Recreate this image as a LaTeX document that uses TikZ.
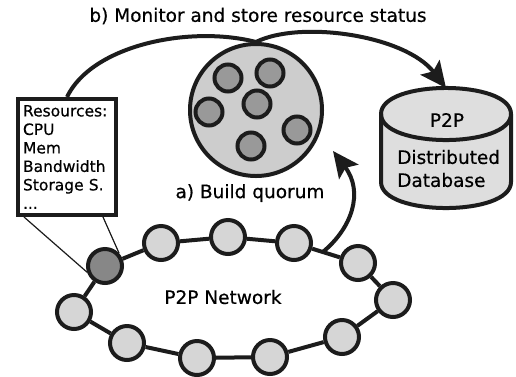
\documentclass[tikz,border=0pt]{standalone}
\usepackage{fontspec}
\setmainfont[FakeBold=0.5]{DejaVu Sans}
\usetikzlibrary{arrows.meta,calc}

\definecolor{ink}{HTML}{1C1C1C}
\definecolor{peerfill}{HTML}{D6D6D6}
\definecolor{peerdark}{HTML}{878787}
\definecolor{quorumfill}{HTML}{CDCDCD}
\definecolor{memberfill}{HTML}{999999}
\definecolor{dbfill}{HTML}{DEDEDE}

\tikzset{
  peer/.style={circle, draw=ink, line width=4pt, fill=peerfill, minimum size=34pt, inner sep=0pt},
  peerhot/.style={peer, fill=peerdark},
  quorum/.style={circle, draw=ink, line width=4pt, fill=quorumfill, minimum size=132pt, inner sep=0pt},
  member/.style={circle, draw=ink, line width=4pt, fill=memberfill, minimum size=27pt, inner sep=0pt},
  link/.style={draw=ink, line width=4pt},
  flow/.style={draw=ink, line width=4pt, -{Stealth[length=26pt, width=24pt, inset=5pt]}},
  callout/.style={draw=ink, line width=1.2pt},
  label/.style={font=\fontsize{18.5}{22}\selectfont, text=black, inner sep=0pt},
  resbox/.style={draw=ink, line width=4pt, fill=white, minimum width=98pt, minimum height=116pt,
    text width=88pt, inner xsep=5pt, inner ysep=0pt, align=left,
    font=\fontsize{15.5}{18.5}\selectfont}
}

\begin{document}
\begin{tikzpicture}[x=1pt, y=-1pt]
\useasboundingbox[fill=white] (0,0) rectangle (516,376);

% title
\node[label] (title) at (258,16) {b) Monitor and store resource status};

% distributed database (cylinder)
\coordinate (dbtop) at (446,88);
\filldraw[draw=ink, line width=4pt, fill=dbfill]
  (381,114) -- (381,182)
  .. controls (381,216.7) and (511,216.7) .. (511,182)
  -- (511,114)
  .. controls (511,79.3) and (381,79.3) .. (381,114) -- cycle;
\draw[draw=ink, line width=4pt]
  (381,114) .. controls (381,148.7) and (511,148.7) .. (511,114);
\node[label] (dbname) at (447,120) {P2P};
\node[label, anchor=west] (dbl1) at (397,157) {Distributed};
\node[label, anchor=west] (dbl2) at (397,180) {Database};

% quorum
\node[quorum] (q) at (256,110) {};
\node[member] (m1) at (228,78) {};
\node[member] (m2) at (270,73) {};
\node[member] (m3) at (257,104) {};
\node[member] (m4) at (209,112) {};
\node[member] (m5) at (297,130) {};
\node[member] (m6) at (251,146) {};

% resource box
\node[resbox] (res) at (67,157) {Resources:\\CPU\\Mem\\Bandwidth\\Storage S.\\...};

% monitoring arrow over the quorum
\draw[link] (res.north) .. controls (92,45) and (190,25) .. (q.north);
\draw[flow] (q.north) .. controls (300,20) and (405,35) .. (dbtop);

% P2P ring
\node[peerhot] (p1) at (105,266) {};
\node[peer] (p2) at (161,243) {};
\node[peer] (p3) at (228,237) {};
\node[peer] (p4) at (294,243) {};
\node[peer] (p5) at (358,263) {};
\node[peer] (p6) at (393,300) {};
\node[peer] (p7) at (342,337) {};
\node[peer] (p8) at (270,357) {};
\node[peer] (p9) at (197,358) {};
\node[peer] (p10) at (127,343) {};
\node[peer] (p11) at (74,312) {};
\foreach \a/\b in {p1/p2,p2/p3,p3/p4,p4/p5,p5/p6,p6/p7,p7/p8,p8/p9,p9/p10,p10/p11,p11/p1}
  \draw[link] (\a) -- (\b);

% callout from the box to the highlighted peer
\draw[callout] ($(res.south west)+(8,0)$) -- (p1.199);
\draw[callout] ($(res.south east)+(-15,0)$) -- (p1.42);

% quorum building arrow
\coordinate (qstart) at ($(p4)!0.45!(p5)$);
\coordinate (qtip) at (333,151);
\draw[flow] (qstart) .. controls (352,228) and (364,192) .. (qtip);

\node[label] (build) at (250,193) {a) Build quorum};
\node[label] (net) at (223,297) {P2P Network};
\end{tikzpicture}
\end{document}
